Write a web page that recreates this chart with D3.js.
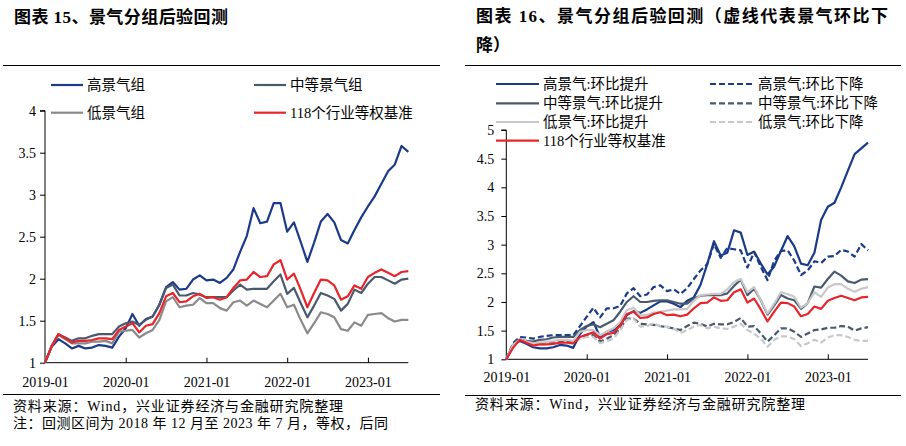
<!DOCTYPE html>
<html><head><meta charset="utf-8">
<script src="https://cdn.jsdelivr.net/npm/d3@7/dist/d3.min.js"></script>
<style>
body{margin:0;background:#fff;}
svg{display:block;}
text{font-family:"Liberation Serif","Noto Sans CJK SC",serif;fill:#000;}
</style></head>
<body>
<script>
// ---------- DATA ----------
const xTickLabels = ["2019-01","2020-01","2021-01","2022-01","2023-01"];
const xTickIndex = [0,12,24,36,48];

// Chart 15
const leftNames = ["高景气组","中等景气组","低景气组","118个行业等权基准"];
const leftHigh = [1.00,1.19,1.28,1.23,1.17,1.20,1.17,1.18,1.21,1.20,1.18,1.31,1.41,1.58,1.44,1.52,1.55,1.69,1.90,1.96,1.87,1.88,1.99,2.04,1.98,1.99,1.95,2.01,2.11,2.32,2.51,2.84,2.66,2.68,2.90,2.90,2.56,2.67,2.44,2.20,2.43,2.68,2.77,2.67,2.46,2.42,2.58,2.73,2.86,2.98,3.13,3.28,3.36,3.58,3.51];
const leftMid = [1.00,1.20,1.34,1.30,1.26,1.29,1.29,1.32,1.34,1.34,1.34,1.43,1.47,1.49,1.45,1.51,1.55,1.69,1.89,1.93,1.80,1.80,1.83,1.81,1.78,1.78,1.78,1.78,1.86,1.93,1.87,1.88,1.88,1.88,1.97,2.05,1.82,1.89,1.71,1.54,1.68,1.83,1.80,1.76,1.62,1.70,1.87,1.83,1.94,2.02,2.02,1.98,1.94,1.99,2.00];
const leftLow = [1.00,1.20,1.33,1.28,1.23,1.23,1.23,1.25,1.25,1.26,1.23,1.37,1.38,1.39,1.30,1.35,1.39,1.51,1.73,1.78,1.66,1.68,1.69,1.77,1.71,1.71,1.65,1.62,1.72,1.74,1.68,1.74,1.70,1.66,1.74,1.82,1.66,1.69,1.51,1.35,1.47,1.60,1.58,1.54,1.40,1.38,1.48,1.44,1.57,1.58,1.59,1.53,1.49,1.51,1.51];
const benchmark = [1.00,1.20,1.34,1.29,1.24,1.26,1.26,1.27,1.29,1.29,1.28,1.39,1.43,1.47,1.36,1.44,1.46,1.59,1.79,1.83,1.72,1.73,1.79,1.82,1.77,1.78,1.75,1.78,1.89,1.98,1.99,2.08,2.02,2.03,2.17,2.22,1.99,2.06,1.87,1.66,1.83,1.99,1.98,1.92,1.75,1.79,1.92,1.88,2.02,2.07,2.11,2.07,2.03,2.08,2.09];
const leftYTicks = [1,1.5,2,2.5,3,3.5,4];

// Chart 16
const rightNames = ["高景气:环比提升","高景气:环比下降","中等景气:环比提升","中等景气:环比下降","低景气:环比提升","低景气:环比下降","118个行业等权基准"];
const highUp = [1.00,1.25,1.32,1.27,1.21,1.19,1.19,1.21,1.25,1.24,1.20,1.44,1.57,1.65,1.39,1.48,1.51,1.60,1.77,1.84,1.81,1.87,1.94,2.01,2.01,1.97,1.91,2.02,2.08,2.30,2.66,3.06,2.81,2.86,3.25,3.21,2.82,2.88,2.67,2.48,2.62,2.89,3.15,2.97,2.67,2.64,2.86,3.43,3.66,3.73,4.00,4.29,4.58,4.68,4.78];
const highDown = [1.00,1.28,1.39,1.38,1.36,1.39,1.41,1.42,1.42,1.42,1.42,1.58,1.74,1.90,1.73,1.89,1.89,1.93,2.15,2.24,2.10,2.13,2.26,2.29,2.19,2.22,2.14,2.24,2.40,2.55,2.66,3.01,2.77,2.94,2.92,2.90,2.60,2.87,2.61,2.38,2.72,2.89,2.90,2.72,2.47,2.55,2.71,2.68,2.79,2.80,2.91,2.88,2.79,3.01,2.90];
const midUp = [1.00,1.25,1.35,1.32,1.31,1.34,1.35,1.38,1.39,1.39,1.39,1.51,1.58,1.61,1.56,1.62,1.68,1.83,2.00,2.10,2.00,2.00,2.02,2.03,2.03,2.00,1.97,1.97,2.06,2.11,2.12,2.12,2.12,2.15,2.28,2.39,2.12,2.23,2.03,1.78,1.94,2.12,2.06,2.03,1.88,1.98,2.27,2.25,2.40,2.53,2.46,2.36,2.33,2.39,2.40];
const midDown = [1.00,1.25,1.34,1.31,1.28,1.28,1.29,1.29,1.30,1.31,1.29,1.39,1.42,1.42,1.31,1.36,1.42,1.54,1.71,1.71,1.62,1.61,1.60,1.58,1.56,1.54,1.51,1.58,1.64,1.62,1.57,1.62,1.61,1.61,1.65,1.72,1.57,1.58,1.45,1.31,1.42,1.54,1.54,1.48,1.39,1.45,1.51,1.52,1.55,1.55,1.58,1.57,1.50,1.54,1.56];
const lowUp = [1.00,1.25,1.35,1.31,1.28,1.29,1.30,1.32,1.34,1.34,1.32,1.48,1.51,1.51,1.42,1.48,1.54,1.65,1.86,1.90,1.77,1.77,1.81,1.83,1.85,1.87,1.87,1.88,2.02,2.12,2.13,2.14,2.14,2.22,2.35,2.40,2.17,2.26,2.03,1.80,1.97,2.17,2.14,2.09,1.90,1.98,2.17,2.09,2.25,2.31,2.31,2.23,2.18,2.23,2.26];
const lowDown = [1.00,1.25,1.33,1.29,1.25,1.25,1.26,1.27,1.28,1.28,1.27,1.36,1.39,1.39,1.28,1.32,1.36,1.51,1.69,1.71,1.57,1.58,1.62,1.58,1.57,1.54,1.46,1.51,1.57,1.60,1.54,1.57,1.54,1.53,1.57,1.62,1.51,1.45,1.36,1.22,1.34,1.40,1.40,1.35,1.23,1.28,1.34,1.29,1.38,1.42,1.42,1.39,1.34,1.32,1.32];
const rightYTicks = [1,1.5,2,2.5,3,3.5,4,4.5,5];

// ---------- STYLE ----------
const C_HIGH = "#1b3a8a", C_MID = "#4a5a6e", C_LOW = "#8a8a8a", C_LOW2 = "#c8c8c8", C_RED = "#e8252b";

const svg = d3.select("body").append("svg").attr("width",906).attr("height",446);

function text(x,y,str,opts={}){
  const t = svg.append("text").attr("x",x).attr("y",y).text(str)
    .attr("font-size",opts.size||14);
  if(opts.weight) t.attr("font-weight",opts.weight);
  if(opts.anchor) t.attr("text-anchor",opts.anchor);
  if(opts.len) t.attr("textLength",opts.len).attr("lengthAdjust","spacing");
  return t;
}
function hline(x1,x2,y,w){
  svg.append("line").attr("x1",x1).attr("x2",x2).attr("y1",y).attr("y2",y)
    .attr("stroke","#000").attr("stroke-width",w||1);
}

// titles & frame lines
text(14,23,"图表 15、景气分组后验回测",{size:17,weight:"bold",len:214});
text(476,22,"图表 16、景气分组后验回测（虚线代表景气环比下",{size:17,weight:"bold",len:412});
text(476,51,"降）",{size:17,weight:"bold"});
hline(3,440,65.5,1.2);
hline(465,901,65.5,1.2);
hline(3,440,394.5,1.2);
hline(465,901,395.5,1.2);
text(13,411,"资料来源：Wind，兴业证券经济与金融研究院整理",{size:14,len:330});
text(13,428,"注：回测区间为 2018 年 12 月至 2023 年 7 月，等权，后同",{size:14,len:375});
text(475,409,"资料来源：Wind，兴业证券经济与金融研究院整理",{size:14,len:330});

function drawChart(cfg){
  const x = d3.scaleLinear().domain([0,54]).range([cfg.x0,cfg.x1]);
  const y = d3.scaleLinear().domain(cfg.yDomain).range([cfg.y0,cfg.y1]);
  const g = svg.append("g");
  // y axis
  const ya = d3.axisLeft(y).tickValues(cfg.yTicks).tickSize(5).tickFormat(d3.format("~g"));
  const yg = g.append("g").attr("transform",`translate(${cfg.x0},0)`).call(ya);
  yg.select(".domain").attr("stroke","#000").attr("d",`M-5,${cfg.y1}H0V${cfg.y0}`);
  yg.selectAll(".tick line").attr("stroke","#000");
  yg.selectAll(".tick text").attr("font-size",14).attr("font-family",'"Liberation Serif",serif')
    .attr("x",-cfg.labelGap).attr("fill","#000");
  // x axis
  const xa = d3.axisBottom(x).tickValues(xTickIndex).tickSize(0)
    .tickFormat((d,i)=>xTickLabels[i]);
  const xg = g.append("g").attr("transform",`translate(0,${cfg.y0})`).call(xa);
  xg.select(".domain").attr("stroke","#000").attr("d",`M${cfg.x0},0H${cfg.x1}`);
  xg.selectAll(".tick line").remove();
  xg.selectAll(".tick").filter((d)=>d>0).append("line").attr("y1",0).attr("y2",-5).attr("stroke","#000");
  xg.selectAll(".tick text").attr("font-size",14).attr("font-family",'"Liberation Serif",serif')
    .attr("y",cfg.xLabelDy).attr("dy",0).attr("fill","#000");
  // lines
  const line = d3.line().x((d,i)=>x(i)).y(d=>y(d));
  cfg.series.forEach(s=>{
    g.append("path").datum(s.data).attr("d",line).attr("fill","none")
      .attr("stroke",s.color).attr("stroke-width",2.2).attr("stroke-linejoin","round")
      .attr("stroke-dasharray",s.dash?"6,3":null);
  });
  // legend
  cfg.legend.forEach(l=>{
    const s = cfg.series[l.k];
    g.append("line").attr("x1",l.x).attr("x2",l.x+l.w).attr("y1",l.y).attr("y2",l.y)
      .attr("stroke",s.color).attr("stroke-width",2.2).attr("stroke-dasharray",s.dash?"6,3":null);
    g.append("text").attr("x",l.x+l.w+4).attr("y",l.y+5).attr("font-size",14.5).text(s.name);
  });
}

drawChart({
  x0:45,x1:408.3,y0:362.7,y1:110.7,yDomain:[1,4],yTicks:leftYTicks,labelGap:9,xLabelDy:24,
  series:[
    {name:leftNames[0],data:leftHigh,color:C_HIGH},
    {name:leftNames[1],data:leftMid,color:C_MID},
    {name:leftNames[2],data:leftLow,color:C_LOW},
    {name:leftNames[3],data:benchmark,color:C_RED}
  ],
  legend:[
    {k:0,x:51,y:85,w:32},{k:1,x:254,y:85,w:32},
    {k:2,x:51,y:112.7,w:32},{k:3,x:254,y:112.7,w:32}
  ]
});

drawChart({
  x0:506.3,x1:868,y0:359.3,y1:130,yDomain:[1,5],yTicks:rightYTicks,labelGap:12,xLabelDy:23,
  series:[
    {name:rightNames[1],data:highDown,color:C_HIGH,dash:true},
    {name:rightNames[3],data:midDown,color:C_MID,dash:true},
    {name:rightNames[5],data:lowDown,color:C_LOW2,dash:true},
    {name:rightNames[0],data:highUp,color:C_HIGH},
    {name:rightNames[2],data:midUp,color:C_MID},
    {name:rightNames[4],data:lowUp,color:C_LOW2},
    {name:rightNames[6],data:benchmark,color:C_RED}
  ],
  legend:[
    {k:3,x:496,y:84,w:43},{k:0,x:710,y:84,w:44},
    {k:4,x:496,y:103.3,w:43},{k:1,x:710,y:103.3,w:44},
    {k:5,x:496,y:122,w:43},{k:2,x:710,y:122,w:44},
    {k:6,x:496,y:140.7,w:43}
  ]
});
</script>
</body></html>
